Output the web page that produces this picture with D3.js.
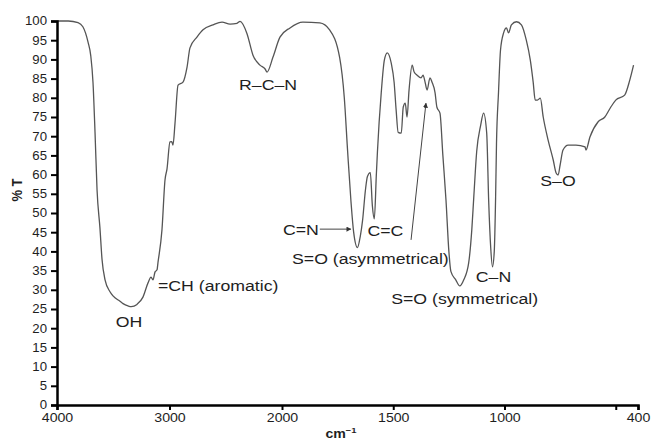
<!DOCTYPE html>
<html>
<head>
<meta charset="utf-8">
<script src="https://cdn.jsdelivr.net/npm/d3@7"></script>
<style>
  body { margin: 0; background: #fff; }
  text { font-family: "Liberation Sans", Arial, sans-serif; fill: #1e1e1e; }
</style>
</head>
<body>
<svg id="chart" width="654" height="446"></svg>
<script>
// spectrum
const wavenumber = [4000, 3900, 3813, 3770, 3724, 3700, 3680, 3662, 3644, 3618, 3600, 3573, 3529, 3502, 3440, 3413, 3369, 3340, 3289, 3236,
    3191, 3164, 3147, 3129, 3111, 3102, 3067, 3040, 3022, 2996, 2980, 2969, 2951, 2924, 2880, 2844, 2818, 2756, 2702, 2613,
    2533, 2462, 2400, 2373, 2311, 2258, 2196, 2150, 2133, 2080, 2018, 1964, 1906, 1830, 1786, 1741, 1720, 1705, 1690, 1678,
    1661, 1648, 1638, 1625, 1616, 1603, 1594, 1585, 1576, 1571, 1554, 1540, 1527, 1509, 1496, 1487, 1478, 1464, 1455, 1446,
    1438, 1429, 1415, 1406, 1393, 1375, 1366, 1357, 1348, 1335, 1326, 1312, 1304, 1290, 1277, 1263, 1250, 1241, 1219, 1201,
    1183, 1161, 1147, 1138, 1125, 1107, 1094, 1080, 1071, 1062, 1054, 1046, 1040, 1036, 1027, 1018, 1004, 991, 982, 969,
    946, 924, 902, 884, 871, 862, 852, 839, 826, 804, 781, 768, 759, 750, 737, 714, 679, 638, 634, 616,
    580, 549, 522, 500, 460, 437, 420]
const transmittance = [100, 100, 99.6, 98.5, 94.5, 91, 84, 71, 56, 46, 38, 32.6, 29.5, 28.4, 27, 26.4, 25.8, 25.6, 26.2, 28.1,
    31.8, 33.3, 32.6, 34.6, 35.2, 37.2, 45.6, 58.6, 61.5, 68.5, 68.6, 67.7, 73.4, 83.3, 84.1, 88, 93, 95.8, 97.7, 99,
    99.7, 99.2, 99.4, 99.9, 96.7, 91.1, 88.5, 87.5, 86.7, 90.6, 95.8, 98.2, 99.7, 99.5, 97.7, 90.5, 80, 66, 53, 45,
    41, 44, 48, 56, 59.5, 60.5, 52, 48.5, 60, 66, 81.3, 89.8, 91.7, 89, 84, 76.8, 71, 70.8, 77.6, 78.6,
    75, 82, 88.5, 86.7, 85.9, 85.2, 85.9, 84.1, 82, 85.2, 84.1, 81.3, 77.6, 76, 65, 53.4, 40, 34.8, 32.6, 31,
    32.6, 37, 45.6, 54.2, 66, 72.9, 76, 70.8, 53, 41, 36, 40, 54, 68, 81.3, 92.4, 96.9, 98.2, 96.9, 99,
    99.8, 99, 95, 89.8, 84, 79.4, 79.4, 79.9, 75, 69, 63.8, 60.4, 59.9, 62.5, 66.4, 67.7, 67.7, 67.2, 66.4, 69.8,
    73.7, 75, 77.6, 79.4, 80.7, 84.6, 88.5]

const xTickValues = [4000, 3000, 2000, 1500, 1000, 500, 400]
const xTickLabels = ['4000', '3000', '2000', '1500', '1000', '', '400']
const yTickValues = d3.range(0, 101, 5)

const bandLabels = ['R\u2013C\u2013N', 'OH', '=CH (aromatic)', 'C=N', 'S=O (asymmetrical)', 'C=C',
    'C\u2013N', 'S=O (symmetrical)', 'S\u2013O']

const svg = d3.select('#chart')
const stretch = 'scale(1.18,1)'

// axis break: 4000-2000 is drawn at half the scale of 2000-400
const x = d3.scaleLinear()
    .domain([4000, 2000, 400])
    .range([57, 282, 638])

const y = d3.scaleLinear()
    .domain([0, 100])
    .range([405, 21])

// spectrum line
const points = wavenumber.map((w, i) => [w, transmittance[i]])
const line = d3.line()
    .x(d => x(d[0]))
    .y(d => y(d[1]))
    .curve(d3.curveMonotoneX)

svg.append('path')
    .datum(points)
    .attr('d', line)
    .attr('fill', 'none')
    .attr('stroke', '#555')
    .attr('stroke-width', 1.3)

// axes
const yAxis = svg.append('g')
    .attr('transform', 'translate(57,0)')
    .call(d3.axisLeft(y).tickValues(yTickValues).tickSize(6).tickPadding(4))
const xAxis = svg.append('g')
    .attr('transform', 'translate(0,405)')
    .call(d3.axisBottom(x).tickValues(xTickValues).tickSize(5).tickPadding(3)
        .tickFormat((d, i) => xTickLabels[i]))

for (const ax of [xAxis, yAxis]) {
    ax.select('.domain').attr('stroke', '#000').attr('stroke-width', 2.5)
    ax.selectAll('.tick line').attr('stroke', '#000').attr('stroke-width', 2)
    ax.selectAll('.tick text')
        .attr('font-family', '"Liberation Sans", Arial, sans-serif')
        .attr('font-size', 12)
        .attr('fill', '#1e1e1e')
}
yAxis.selectAll('.tick text').attr('transform', 'translate(-10,0) scale(1.1,1)').attr('x', 0)
xAxis.selectAll('.tick text').attr('transform', 'scale(1.18,1)')

// axis titles
svg.append('text')
    .attr('transform', 'translate(22,190) rotate(-90) scale(1,1.18)')
    .attr('text-anchor', 'middle')
    .attr('font-size', 13)
    .attr('font-weight', 'bold')
    .text('% T')

const xTitle = svg.append('text')
    .attr('transform', 'translate(341,438) ' + stretch)
    .attr('text-anchor', 'middle')
    .attr('font-size', 12)
    .attr('font-weight', 'bold')
xTitle.append('tspan').text('cm')
xTitle.append('tspan').attr('font-size', 8).attr('dy', -5).text('\u22121')

// band annotations, placed in chart units
const labelPlaces = [
    [2124, 82, 'middle'],
    [3360, 20.3, 'middle'],
    [3102, 29.7, 'start'],
    [1996, 44.3, 'start'],
    [1955, 36.7, 'start'],
    [1616, 44, 'start'],
    [1129, 32, 'start'],
    [1509, 26.3, 'start'],
    [839, 57, 'start']
]
svg.selectAll('.band-label')
    .data(bandLabels)
    .enter()
    .append('text')
    .attr('class', 'band-label')
    .attr('transform', (d, i) => `translate(${x(labelPlaces[i][0])},${y(labelPlaces[i][1])}) ${stretch}`)
    .attr('text-anchor', (d, i) => labelPlaces[i][2])
    .attr('font-size', 15)
    .text(d => d)

// arrows
svg.append('defs').append('marker')
    .attr('id', 'head')
    .attr('viewBox', '0 0 10 10')
    .attr('refX', 9).attr('refY', 5)
    .attr('markerWidth', 5).attr('markerHeight', 5)
    .attr('orient', 'auto')
    .append('path')
    .attr('d', 'M0,0L10,5L0,10Z')
    .attr('fill', '#333')

const arrows = [
    [[1830, 45.8], [1690, 45.8]],
    [[1420, 43], [1353, 78.6]]
]
svg.selectAll('.arrow')
    .data(arrows)
    .enter()
    .append('line')
    .attr('class', 'arrow')
    .attr('x1', d => x(d[0][0])).attr('y1', d => y(d[0][1]))
    .attr('x2', d => x(d[1][0])).attr('y2', d => y(d[1][1]))
    .attr('stroke', '#444')
    .attr('stroke-width', 1)
    .attr('marker-end', 'url(#head)')
</script>
</body>
</html>
